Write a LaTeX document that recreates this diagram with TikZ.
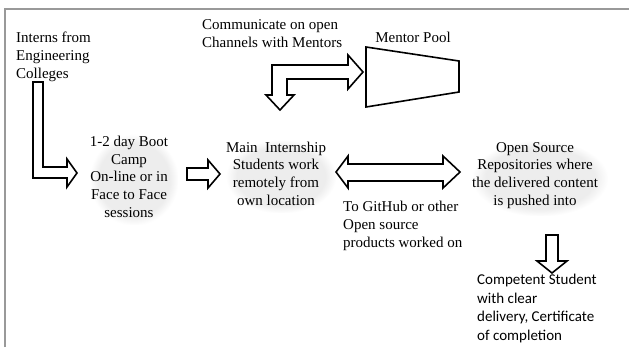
\documentclass[tikz,border=0pt]{standalone}
\usepackage{fontspec}
\setmainfont{Liberation Serif}
\newfontfamily\calib{Carlito}
\usetikzlibrary{backgrounds,fadings}
\begin{document}
\begin{tikzpicture}[x=1bp,y=-1bp,
  txt/.style={inner sep=0pt, font=\fontsize{15bp}{17.6bp}\selectfont},
  sanstxt/.style={inner sep=0pt, font=\calib\fontsize{15bp}{18.4bp}\selectfont},
  blk/.style={draw=black, line width=1.6bp, fill=white, line join=miter},
  frm/.style={draw=black!40, line width=1.8bp},
  softshadow/.style={fill=black, opacity=0.07, path fading=circle with fuzzy edge 20 percent}]
\useasboundingbox (0,0) rectangle (629,347);
% frame
\draw[frm] (5,347) -- (5,9) -- (629,9);
% texts (anchor base = baseline of the last line)
\node[txt, anchor=base west, align=left] (interns) at (16,78) {Interns from\\Engineering\\Colleges};
\node[txt, anchor=base west, align=left] (comm) at (202,47) {Communicate on open\\Channels with Mentors};
\node[txt, anchor=base] (pool) at (413,42) {Mentor Pool};
\node[txt, anchor=base, align=center] (camp) at (129,217) {1-2 day Boot\\Camp\\On-line or in\\Face to Face\\sessions};
\node[txt, anchor=base, align=center] (main) at (276,205) {Main\ \ Internship\\Students work\\remotely from\\own location};
\node[txt, anchor=base, align=center] (open) at (535,205) {Open Source\\Repositories where\\the delivered content\\is pushed into};
\node[txt, anchor=base west, align=left] (git) at (343,247) {To GitHub or other\\Open source\\products worked on};
\node[sanstxt, anchor=base west, align=left] (comp) at (477,340) {Competent Student\\with clear\\delivery, Certificate\\of completion};
% soft text shadows
\begin{scope}[on background layer]
  \foreach \n in {camp,main,open}
    \path[softshadow] ([shift={(0,8)}]\n.south west) rectangle ([shift={(10,-2)}]\n.north east);
\end{scope}
% mentor pool trapezoid
\draw[blk] (366,47) -- (459,61) -- (459,92) -- (366,107) -- cycle;
% block arrows
\draw[blk] (33,82) -- (43,82) -- (43,167) -- (67,167) -- (67,159) -- (77,173) -- (67,187) -- (67,178) -- (33,178) -- cycle;
\draw[blk] (187,168) -- (208,168) -- (208,160) -- (220,174) -- (208,188) -- (208,180) -- (187,180) -- cycle;
\draw[blk] (272,95) -- (272,65) -- (348,65) -- (348,55) -- (363,72) -- (348,89) -- (348,79) -- (287,79) -- (287,95) -- (294,95) -- (280,110) -- (266,95) -- cycle;
\draw[blk] (336,172) -- (348,156) -- (348,164) -- (443,164) -- (443,156) -- (460,172) -- (443,188) -- (443,181) -- (348,181) -- (348,188) -- cycle;
\draw[blk] (546,235) -- (558,235) -- (558,261) -- (567,261) -- (552,273) -- (537,261) -- (546,261) -- cycle;
\end{tikzpicture}
\end{document}
